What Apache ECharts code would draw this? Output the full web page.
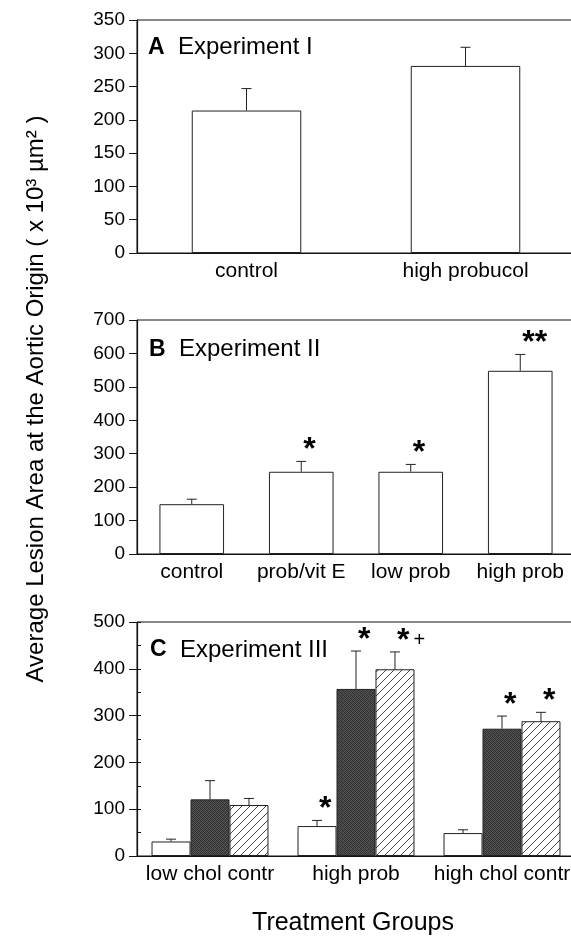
<!DOCTYPE html>
<html>
<head>
<meta charset="utf-8">
<script src="https://cdn.jsdelivr.net/npm/echarts@6/dist/echarts.min.js"></script>
<style>html,body{margin:0;padding:0;background:#fff;}#c{width:571px;height:936px;}</style>
</head>
<body>
<div id="c"></div>
<script>
// ---------- data ----------
const catsA = ['control', 'high probucol'];
const meanA = [214, 281];
const semA  = [33, 28];
const marksA = ['', ''];

const catsB = ['control', 'prob/vit E', 'low prob', 'high prob'];
const meanB = [149, 246, 246, 548];
const semB  = [15, 31, 22, 49];
const marksB = ['', '*', '*', '**'];

const catsC = ['low chol contr', 'high prob', 'high chol contr'];
const meanCwhite   = [31, 64, 49];
const semCwhite    = [5, 12, 7];
const marksCwhite  = ['', '*', ''];
const meanCdark    = [121, 357, 272];
const semCdark     = [40, 81, 27];
const marksCdark   = ['', '*', '*'];
const meanChatch   = [109, 399, 288];
const semChatch    = [14, 37, 19];
const marksChatch  = ['', '*+', '*'];

const ticksA = {min: 0, max: 350, interval: 50};
const ticksB = {min: 0, max: 700, interval: 100};
const ticksC = {min: 0, max: 500, interval: 100};

// ---------- styles ----------
const FONT = '"Liberation Sans", Arial, Helvetica, sans-serif';

function hatchPattern() {
  const c = document.createElement('canvas');
  c.width = 8; c.height = 8;
  const g = c.getContext('2d');
  g.fillStyle = '#fff'; g.fillRect(0, 0, 8, 8);
  g.strokeStyle = '#333'; g.lineWidth = 0.9;
  g.beginPath();
  g.moveTo(0, 8); g.lineTo(8, 0);
  g.moveTo(-1, 1); g.lineTo(1, -1);
  g.moveTo(7, 9); g.lineTo(9, 7);
  g.stroke();
  return c;
}
function stipplePattern() {
  const c = document.createElement('canvas');
  c.width = 4; c.height = 4;
  const g = c.getContext('2d');
  const shades = ['#2e2e2e','#525252','#3b3b3b','#5a5a5a',
                  '#4a4a4a','#2c2c2c','#565656','#383838',
                  '#404040','#585858','#2a2a2a','#4e4e4e',
                  '#545454','#363636','#4c4c4c','#323232'];
  for (let i = 0; i < 16; i++) { g.fillStyle = shades[i]; g.fillRect(i % 4, Math.floor(i / 4), 1, 1); }
  return c;
}

const grids = [
  {left: 137, top: 20,  width: 438, height: 233},
  {left: 137, top: 320, width: 438, height: 234},
  {left: 137, top: 622, width: 438, height: 234}
].map(g => Object.assign(g, {show: true, borderColor: '#111', borderWidth: 1, backgroundColor: 'transparent',
  containLabel: false, outerBoundsMode: 'none'}));

function xAx(idx, cats) {
  return {type: 'category', gridIndex: idx, data: cats,
    axisLine: {lineStyle: {color: '#111', width: 1.2}},
    axisTick: {show: false},
    axisLabel: {color: '#000', fontSize: 21, fontFamily: FONT, margin: 8, interval: 0, hideOverlap: false}};
}
function yAx(idx, t) {
  return {type: 'value', gridIndex: idx, position: 'left', min: t.min, max: t.max, interval: t.interval,
    splitLine: {show: false},
    axisLine: {show: true, lineStyle: {color: '#111', width: 1.2}},
    axisTick: {show: true, length: 8, lineStyle: {color: '#111'}},
    axisLabel: {color: '#000', fontSize: 19, fontFamily: FONT, margin: 12}};
}

function barSeries(idx, data, fill, width, gap) {
  return {type: 'bar', xAxisIndex: idx, yAxisIndex: idx, data: data,
    barWidth: width, barGap: gap || '0%', silent: true, animation: false,
    itemStyle: {color: fill, borderColor: '#222', borderWidth: 1}};
}

function errSeries(idx, means, sems, marks, nSer, k, frac) {
  return {type: 'custom', xAxisIndex: idx, yAxisIndex: idx, z: 5, silent: true, animation: false,
    data: means.map((m, i) => [i, m, sems[i]]),
    renderItem: function (params, api) {
      const i = api.value(0), m = api.value(1), e = api.value(2);
      const band = api.size([1, 0])[0];
      const off = (k - (nSer - 1) / 2) * band * frac;
      const p0 = api.coord([i, m]);
      const p1 = api.coord([i, m + e]);
      const x = p0[0] + off;
      const ch = [
        {type: 'line', shape: {x1: x, y1: p0[1], x2: x, y2: p1[1]}, style: {stroke: '#222', lineWidth: 1}},
        {type: 'line', shape: {x1: x - 5, y1: p1[1], x2: x + 5, y2: p1[1]}, style: {stroke: '#222', lineWidth: 1}}
      ];
      const mk = marks[params.dataIndex];
      if (mk) {
        ch.push({type: 'text', x: x + 2, y: p1[1] - 11,
          style: {text: mk.replace('+', '{p|+}'), fill: '#000', fontSize: 32, fontWeight: 'bold',
            fontFamily: FONT, align: 'left', verticalAlign: 'middle',
            rich: {p: {fontSize: 20, fontWeight: 'normal', fontFamily: FONT, padding: [0, 0, 0, 4]}}}});
      }
      return {type: 'group', children: ch};
    }};
}

const hatch = {image: hatchPattern(), repeat: 'repeat'};
const stipple = {image: stipplePattern(), repeat: 'repeat'};
const fracC = 0.267;

const yAxes = [yAx(0, ticksA), yAx(1, ticksB), yAx(2, ticksC)];
// inner minor ticks for panel C
yAxes.push({type: 'value', gridIndex: 2, position: 'left', offset: 0,
  min: ticksC.min, max: ticksC.max, interval: ticksC.interval / 2,
  splitLine: {show: false}, axisLine: {show: false}, axisLabel: {show: false},
  axisTick: {show: true, inside: true, length: 4, lineStyle: {color: '#111'}}});

const option = {
  animation: false,
  backgroundColor: '#fff',
  grid: grids,
  xAxis: [xAx(0, catsA), xAx(1, catsB), xAx(2, catsC)],
  yAxis: yAxes,
  series: [
    barSeries(0, meanA, '#fff', '50%'),
    errSeries(0, meanA, semA, marksA, 1, 0, 0),
    barSeries(1, meanB, '#fff', '59%'),
    errSeries(1, meanB, semB, marksB, 1, 0, 0),
    barSeries(2, meanCwhite, '#fff', (fracC * 100) + '%'),
    barSeries(2, meanCdark, stipple, (fracC * 100) + '%'),
    barSeries(2, meanChatch, hatch, (fracC * 100) + '%'),
    errSeries(2, meanCwhite, semCwhite, marksCwhite, 3, 0, fracC),
    errSeries(2, meanCdark, semCdark, marksCdark, 3, 1, fracC),
    errSeries(2, meanChatch, semChatch, marksChatch, 3, 2, fracC)
  ],
  graphic: [
    {type: 'text', x: 148, y: 47.5, style: {text: '{b|A}  Experiment I', fontSize: 24, fontFamily: FONT, fill: '#000', verticalAlign: 'middle',
      rich: {b: {fontSize: 23, fontWeight: 'bold', fontFamily: FONT}}}},
    {type: 'text', x: 149, y: 349.5, style: {text: '{b|B}  Experiment II', fontSize: 24, fontFamily: FONT, fill: '#000', verticalAlign: 'middle',
      rich: {b: {fontSize: 23, fontWeight: 'bold', fontFamily: FONT}}}},
    {type: 'text', x: 150, y: 650, style: {text: '{b|C}  Experiment III', fontSize: 24, fontFamily: FONT, fill: '#000', verticalAlign: 'middle',
      rich: {b: {fontSize: 23, fontWeight: 'bold', fontFamily: FONT}}}},
    {type: 'text', x: 36, y: 399, rotation: Math.PI / 2,
      style: {text: 'Average Lesion Area at the Aortic Origin ( x 10³ µm² )', fontSize: 24, fontFamily: FONT, fill: '#000',
        align: 'center', verticalAlign: 'middle'}},
    {type: 'text', x: 353, y: 923,
      style: {text: 'Treatment Groups', fontSize: 25, fontFamily: FONT, fill: '#000', align: 'center', verticalAlign: 'middle'}}
  ]
};

const chart = echarts.init(document.getElementById('c'), null, {renderer: 'canvas'});
chart.setOption(option);
</script>
</body>
</html>
